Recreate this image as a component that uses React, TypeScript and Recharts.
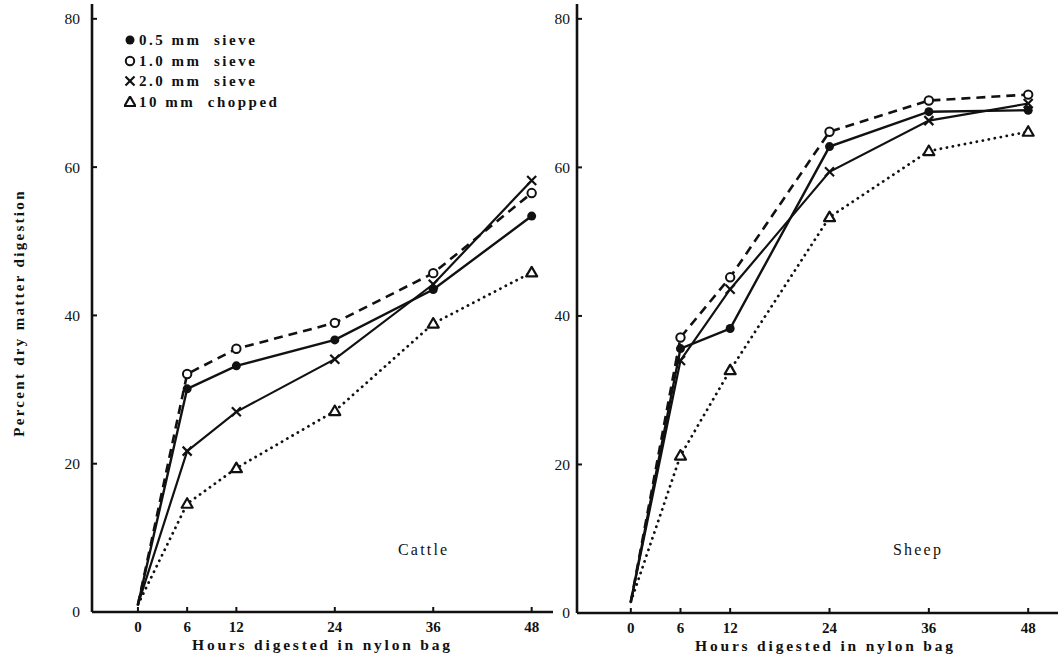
import React from 'react';
import { LineChart, Line, XAxis, YAxis } from 'recharts';

const hours = [0, 6, 12, 24, 36, 48];
const yTicks = [0, 20, 40, 60, 80];

const seriesNames = ['0.5 mm  sieve', '1.0 mm  sieve', '2.0 mm  sieve', '10 mm  chopped'];

// cattle, percent dry matter digestion
const cattle05 = [1, 30.1, 33.2, 36.7, 43.5, 53.4];
const cattle10 = [1, 32.1, 35.5, 39.0, 45.7, 56.5];
const cattle20 = [1, 21.7, 27.0, 34.1, 44.2, 58.2];
const cattleChop = [1, 14.6, 19.4, 27.1, 38.9, 45.8];

// sheep
const sheep05 = [1.5, 35.6, 38.3, 62.8, 67.5, 67.7];
const sheep10 = [1.5, 37.1, 45.2, 64.8, 69.0, 69.8];
const sheep20 = [1.5, 34.0, 43.6, 59.4, 66.3, 68.6];
const sheepChop = [1.5, 21.2, 32.7, 53.3, 62.2, 64.8];

const buildRows = (a: number[], b: number[], c: number[], d: number[]) =>
    hours.map((h, i) => ({ h, a: a[i], b: b[i], c: c[i], d: d[i] }));

const cattleData = buildRows(cattle05, cattle10, cattle20, cattleChop);
const sheepData = buildRows(sheep05, sheep10, sheep20, sheepChop);

const INK = '#111';
const SERIF = '"Liberation Serif", "DejaVu Serif", serif';

type Kind = 'filled' | 'open' | 'cross' | 'tri';

const Marker = ({ kind, cx, cy }: { kind: Kind; cx: number; cy: number }) => {
    if (kind === 'filled') return <circle cx={cx} cy={cy} r={4.5} fill={INK} />;
    if (kind === 'open') return <circle cx={cx} cy={cy} r={4.2} fill="#fff" stroke={INK} strokeWidth={2} />;
    if (kind === 'cross')
        return (
            <g stroke={INK} strokeWidth={2.2}>
                <line x1={cx - 4.5} y1={cy - 4.5} x2={cx + 4.5} y2={cy + 4.5} />
                <line x1={cx - 4.5} y1={cy + 4.5} x2={cx + 4.5} y2={cy - 4.5} />
            </g>
        );
    return (
        <polygon
            points={`${cx},${cy - 5.5} ${cx - 5.5},${cy + 4} ${cx + 5.5},${cy + 4}`}
            fill="#fff"
            stroke={INK}
            strokeWidth={2.2}
            strokeLinejoin="round"
        />
    );
};

const makeDot = (kind: Kind) => (props: any) => {
    const { cx, cy, index } = props;
    if (index === 0 || cx == null || cy == null) return <g key={`d-${kind}-${index}`} />;
    return (
        <g key={`d-${kind}-${index}`}>
            <Marker kind={kind} cx={cx} cy={cy} />
        </g>
    );
};

const YTick = (labelGap: number) => (props: any) => {
    const { x, y, payload } = props;
    return (
        <g>
            {payload.value !== 0 && <line x1={x} y1={y} x2={x + 5} y2={y} stroke={INK} strokeWidth={2} />}
            <text x={x - labelGap} y={y} dy="0.35em" textAnchor="end" fontFamily={SERIF} fontSize={15.5} fill={INK}>
                {payload.value}
            </text>
        </g>
    );
};

const XTick = (props: any) => {
    const { x, y, payload } = props;
    return (
        <g>
            <line x1={x} y1={y} x2={x} y2={y - 5} stroke={INK} strokeWidth={2} />
            <text x={x} y={y + 20} textAnchor="middle" fontFamily={SERIF} fontSize={15} fontWeight="bold" fill={INK}>
                {payload.value}
            </text>
        </g>
    );
};

const legendKinds: Kind[] = ['filled', 'open', 'cross', 'tri'];

const LegendBox = () => (
    <div style={{ fontFamily: SERIF, fontSize: 15, fontWeight: 'bold', color: INK, lineHeight: '20.5px' }}>
        {seriesNames.map((n, i) => (
            <div key={n} style={{ display: 'flex', alignItems: 'center', whiteSpace: 'pre', letterSpacing: '2.5px' }}>
                <svg width={12} height={12} style={{ marginRight: 3 }}>
                    <Marker kind={legendKinds[i]} cx={6} cy={6} />
                </svg>
                {n}
            </div>
        ))}
    </div>
);

const lines = (
    keyPrefix: string
) => [
    <Line key={`${keyPrefix}a`} dataKey="a" stroke={INK} strokeWidth={2.4} dot={makeDot('filled')} activeDot={false} isAnimationActive={false} />,
    <Line key={`${keyPrefix}b`} dataKey="b" stroke={INK} strokeWidth={2.6} strokeDasharray="9 6" dot={makeDot('open')} activeDot={false} isAnimationActive={false} />,
    <Line key={`${keyPrefix}c`} dataKey="c" stroke={INK} strokeWidth={2.2} dot={makeDot('cross')} activeDot={false} isAnimationActive={false} />,
    <Line key={`${keyPrefix}d`} dataKey="d" stroke={INK} strokeWidth={2.8} strokeDasharray="0.1 6" strokeLinecap="round" dot={makeDot('tri')} activeDot={false} isAnimationActive={false} />,
];

const xLabelStyle = { fontFamily: SERIF, fontSize: 15.5, fontWeight: 'bold', fill: INK, letterSpacing: '2.8px' };

const App: React.FC = () => {
    return (
        <div style={{ position: 'absolute', left: 0, top: 0, width: 1062, height: 668, background: '#fff' }}>
            <div style={{ position: 'absolute', left: 0, top: 0 }}>
                <LineChart width={560} height={668} data={cattleData} margin={{ top: 4, right: 7, bottom: 0, left: 0 }}>
                    <XAxis
                        dataKey="h"
                        type="number"
                        domain={[-5.6, 50.6]}
                        allowDataOverflow
                        ticks={hours}
                        height={56}
                        tickSize={0}
                        tickMargin={0}
                        tick={XTick}
                        interval={0}
                        axisLine={{ stroke: INK, strokeWidth: 2.6 }}
                        label={{ value: 'Hours digested in nylon bag', position: 'insideBottom', offset: 18, style: xLabelStyle }}
                    />
                    <YAxis
                        type="number"
                        domain={[0, 82]}
                        allowDataOverflow
                        ticks={yTicks}
                        width={92}
                        tickSize={0}
                        tickMargin={0}
                        tick={YTick(12)}
                        interval={0}
                        axisLine={{ stroke: INK, strokeWidth: 2.6 }}
                        label={{
                            content: () => (
                                <text
                                    transform="translate(19,313) rotate(-90)"
                                    textAnchor="middle"
                                    dy="0.35em"
                                    fontFamily={SERIF}
                                    fontSize={15}
                                    fontWeight="bold"
                                    letterSpacing="2.3px"
                                    fill={INK}
                                >
                                    Percent dry matter digestion
                                </text>
                            ),
                        }}
                    />
                    {lines('c')}
                </LineChart>
            </div>
            <div style={{ position: 'absolute', left: 124, top: 30 }}>
                <LegendBox />
            </div>
            <div style={{ position: 'absolute', left: 540, top: 0 }}>
                <LineChart width={522} height={668} data={sheepData} margin={{ top: 4, right: 4, bottom: 0, left: 0 }}>
                    <XAxis
                        dataKey="h"
                        type="number"
                        domain={[-6.5, 51.6]}
                        allowDataOverflow
                        ticks={hours}
                        height={55}
                        tickSize={0}
                        tickMargin={0}
                        tick={XTick}
                        interval={0}
                        axisLine={{ stroke: INK, strokeWidth: 2.6 }}
                        label={{ value: 'Hours digested in nylon bag', position: 'insideBottom', offset: 17, dx: 8, style: xLabelStyle }}
                    />
                    <YAxis
                        type="number"
                        domain={[0, 82]}
                        allowDataOverflow
                        ticks={yTicks}
                        width={37}
                        tickSize={0}
                        tickMargin={0}
                        tick={YTick(7)}
                        interval={0}
                        axisLine={{ stroke: INK, strokeWidth: 2.6 }}
                    />
                    {lines('s')}
                </LineChart>
            </div>
            <div style={{ position: 'absolute', left: 398, top: 541, fontFamily: SERIF, fontSize: 16, color: INK, letterSpacing: '2.2px' }}>
                Cattle
            </div>
            <div style={{ position: 'absolute', left: 893, top: 541, fontFamily: SERIF, fontSize: 16, color: INK, letterSpacing: '2.2px' }}>
                Sheep
            </div>
        </div>
    );
};

export default App;
